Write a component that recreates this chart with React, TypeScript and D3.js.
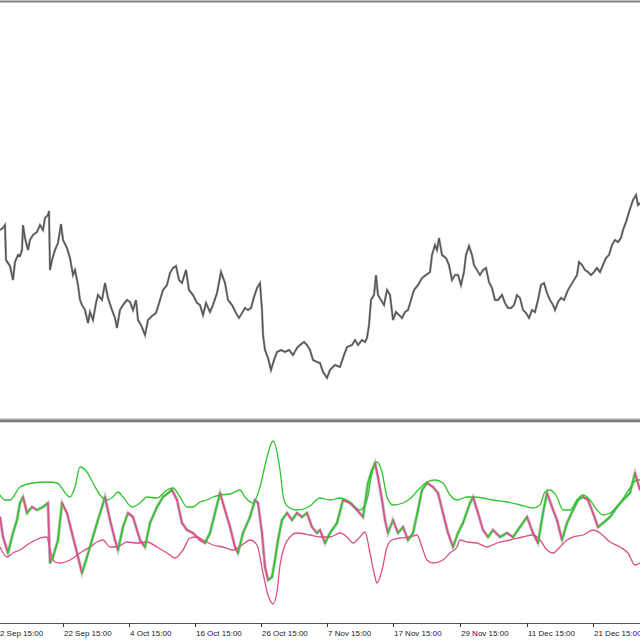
import React from 'react';
import * as d3 from 'd3';

// price bars: [bar, close]
const priceBars: [number, number][] = [
  [0, 110.70], [3, 110.72], [5, 110.75], [6, 110.40], [8, 110.37], [10, 110.34], [13, 110.20], [15, 110.38],
  [18, 110.45], [20, 110.44], [22, 110.50], [23, 110.75], [25, 110.62], [28, 110.50], [30, 110.60], [33, 110.65],
  [37, 110.68], [40, 110.75], [43, 110.70], [45, 110.82], [48, 110.85], [49, 110.89], [50, 110.30], [52, 110.40],
  [55, 110.50], [58, 110.57], [61, 110.76], [63, 110.60], [67, 110.52], [70, 110.42], [73, 110.25], [75, 110.30],
  [78, 110.15], [80, 110.00], [82, 109.95], [85, 109.90], [88, 109.77], [90, 109.88], [93, 109.80], [96, 109.97],
  [98, 110.05], [102, 110.00], [105, 110.17], [108, 110.02], [112, 109.90], [115, 109.82], [117, 109.72], [120, 109.90],
  [123, 109.95], [127, 110.00], [130, 109.98], [133, 109.90], [136, 110.00], [138, 109.80], [141, 109.75], [145, 109.65],
  [148, 109.80], [152, 109.84], [156, 109.87], [160, 110.00], [163, 110.10], [167, 110.15], [170, 110.27], [173, 110.32],
  [176, 110.34], [179, 110.20], [182, 110.17], [186, 110.30], [189, 110.10], [193, 110.05], [197, 109.97], [200, 109.95],
  [203, 109.85], [206, 109.97], [210, 109.88], [213, 109.95], [217, 110.07], [221, 110.28], [225, 110.17], [228, 110.00],
  [232, 109.95], [236, 109.87], [239, 109.82], [242, 109.87], [245, 109.92], [248, 109.90], [251, 109.92], [254, 110.03],
  [257, 110.12], [260, 110.17], [262, 109.90], [263, 109.65], [265, 109.50], [268, 109.42], [271, 109.30], [274, 109.40],
  [277, 109.48], [281, 109.50], [285, 109.48], [289, 109.50], [293, 109.45], [297, 109.52], [300, 109.55], [304, 109.58],
  [307, 109.55], [310, 109.50], [313, 109.40], [317, 109.38], [320, 109.37], [323, 109.28], [327, 109.22], [330, 109.30],
  [335, 109.35], [340, 109.33], [344, 109.45], [347, 109.53], [352, 109.55], [355, 109.60], [358, 109.55], [362, 109.60],
  [365, 109.58], [367, 109.62], [369, 109.75], [371, 110.00], [374, 110.05], [376, 110.25], [378, 110.05], [381, 110.00],
  [384, 109.95], [387, 110.10], [390, 110.05], [393, 109.80], [396, 109.88], [399, 109.85], [402, 109.82], [405, 109.88],
  [408, 109.90], [411, 110.00], [414, 110.10], [418, 110.15], [422, 110.22], [426, 110.25], [430, 110.28], [432, 110.45],
  [435, 110.55], [437, 110.50], [439, 110.62], [442, 110.45], [446, 110.42], [449, 110.35], [452, 110.20], [455, 110.25],
  [458, 110.25], [461, 110.15], [464, 110.28], [466, 110.45], [469, 110.54], [472, 110.45], [474, 110.35], [477, 110.30],
  [480, 110.25], [483, 110.30], [486, 110.32], [489, 110.18], [492, 110.12], [495, 110.00], [498, 110.00], [502, 110.05],
  [505, 109.97], [508, 109.92], [511, 109.92], [514, 109.95], [517, 110.05], [520, 110.02], [523, 109.90], [526, 109.87],
  [529, 109.82], [532, 109.90], [535, 109.88], [538, 110.00], [541, 110.15], [544, 110.17], [547, 110.07], [550, 110.00],
  [553, 109.95], [555, 109.90], [558, 109.98], [561, 110.02], [564, 110.00], [568, 110.10], [571, 110.15], [574, 110.20],
  [577, 110.25], [579, 110.38], [582, 110.35], [585, 110.30], [588, 110.28], [591, 110.25], [594, 110.28], [597, 110.32],
  [600, 110.28], [603, 110.35], [606, 110.42], [609, 110.45], [612, 110.55], [615, 110.60], [618, 110.58], [621, 110.62],
  [623, 110.70], [626, 110.78], [629, 110.88], [633, 111.00], [636, 111.05], [638, 110.95], [640, 110.97],
];

// oscillator main line: [bar, value]
const oscMain: [number, number][] = [
  [0, 3], [3, -17], [8, -33], [13, -13], [17, 0], [20, 17], [23, 23], [27, 7], [32, 13], [37, 10], [43, 13], [48, 17],
  [50, -43], [53, -37], [58, -20], [62, 17], [67, 7], [72, -13], [77, -33], [82, -53], [87, -37], [92, -20], [97, -3],
  [102, 13], [105, 23], [110, 0], [115, -20], [118, -30], [123, -7], [128, 7], [133, 3], [140, -20], [145, -27],
  [150, -3], [157, 13], [163, 23], [172, 30], [177, 20], [182, -3], [187, -10], [193, -13], [200, -20], [205, -23],
  [210, -13], [215, 7], [220, 27], [225, 10], [230, -7], [235, -27], [238, -33], [243, -13], [250, 3], [255, 20],
  [258, 17], [262, -13], [265, -47], [268, -60], [272, -57], [275, -40], [278, -20], [282, 0], [287, 7], [292, 0],
  [297, 7], [302, 3], [307, 7], [312, -7], [317, -13], [320, -10], [325, -23], [330, -13], [337, -3], [343, 20],
  [350, 17], [357, 10], [363, 3], [368, 37], [372, 50], [375, 57], [378, 43], [382, 20], [385, 0], [388, -13],
  [393, 0], [398, -13], [403, -7], [408, -20], [413, -13], [418, 10], [422, 30], [427, 37], [433, 33], [438, 27],
  [443, 7], [448, -13], [453, -27], [458, -13], [463, -3], [470, 17], [473, 23], [478, 7], [483, -10], [488, -17],
  [493, -10], [500, -17], [507, -13], [513, -17], [520, -7], [527, 3], [533, -13], [538, -23], [543, 7], [547, 27],
  [552, 13], [557, 0], [562, -20], [567, -3], [573, 10], [578, 20], [583, 23], [588, 20], [593, 7], [598, -7],
  [603, -3], [610, 3], [617, 13], [623, 20], [630, 27], [635, 47], [640, 30],
];

// upper band (green)
const oscUpper: [number, number][] = [
  [0, 25], [5, 20], [10, 20], [20, 33], [33, 37], [47, 38], [57, 37], [67, 25], [70, 23], [75, 33], [80, 53],
  [87, 48], [93, 37], [100, 25], [107, 20], [113, 23], [118, 28], [123, 23], [132, 13], [140, 17], [147, 23],
  [157, 22], [167, 30], [173, 32], [180, 23], [187, 13], [193, 13], [200, 18], [207, 20], [213, 23], [220, 25],
  [230, 26], [240, 30], [245, 23], [253, 17], [260, 33], [267, 63], [273, 79], [280, 50], [283, 25], [287, 14],
  [297, 10], [310, 14], [320, 22], [330, 20], [340, 22], [350, 18], [360, 10], [367, 20], [372, 47], [377, 58],
  [382, 48], [387, 23], [393, 15], [403, 17], [412, 23], [418, 30], [427, 38], [435, 40], [443, 37], [450, 25],
  [457, 20], [467, 23], [473, 23], [483, 22], [493, 20], [507, 18], [520, 15], [533, 12], [540, 15], [545, 28],
  [550, 30], [557, 23], [563, 10], [570, 10], [577, 20], [583, 25], [590, 20], [597, 10], [603, 5], [610, 7],
  [620, 17], [630, 32], [637, 40], [640, 40],
];

// lower band (pink)
const oscLower: [number, number][] = [
  [0, -27], [7, -37], [13, -33], [20, -30], [30, -23], [40, -18], [47, -17], [50, -30], [55, -42], [60, -43],
  [70, -40], [80, -33], [90, -27], [97, -22], [103, -20], [110, -27], [117, -27], [127, -22], [137, -23], [147, -22],
  [157, -27], [167, -33], [175, -38], [183, -30], [190, -18], [197, -17], [203, -20], [213, -25], [223, -27],
  [233, -30], [242, -25], [250, -20], [257, -25], [263, -53], [268, -75], [273, -84], [277, -72], [280, -45],
  [285, -25], [290, -17], [297, -13], [310, -15], [320, -17], [330, -17], [340, -13], [347, -17], [353, -23],
  [360, -17], [365, -12], [370, -33], [375, -57], [377, -63], [382, -50], [387, -27], [392, -20], [400, -18],
  [410, -17], [417, -15], [422, -27], [427, -40], [433, -43], [443, -40], [450, -33], [457, -27], [460, -20],
  [467, -22], [477, -23], [487, -27], [497, -23], [510, -20], [523, -17], [533, -15], [540, -20], [547, -30],
  [553, -33], [560, -27], [567, -20], [573, -17], [583, -15], [593, -10], [600, -13], [610, -22], [620, -27],
  [628, -33], [635, -45], [640, -43],
];

const tickBars = [-5.5, 63, 129, 195, 261, 327, 393, 460, 527, 593];
const tickLabels = [
  '12 Sep 15:00', '22 Sep 15:00', '4 Oct 15:00', '16 Oct 15:00', '26 Oct 15:00',
  '7 Nov 15:00', '17 Nov 15:00', '29 Nov 15:00', '11 Dec 15:00', '21 Dec 15:00',
];

const W = 640, H = 640;
const GREEN = '#2ec52e';
const PINK = '#dc4f8a';

export default function App() {
  const x = d3.scaleLinear().domain([0, 640]).range([0, W]);
  const yPrice = d3.scaleLinear().domain([108.81, 112.97]).range([419, 3]);
  const yOsc = d3.scaleLinear().domain([-102, 98]).range([622, 422]);

  const priceLine = d3.line<[number, number]>().x(d => x(d[0])).y(d => yPrice(d[1]));
  const oscLine = d3.line<[number, number]>().x(d => x(d[0])).y(d => yOsc(d[1])).curve(d3.curveMonotoneX);
  const rawLine = d3.line<[number, number]>().x(d => x(d[0])).y(d => yOsc(d[1]));

  // colour each step of the main line by direction
  const segs = oscMain.slice(1).map((d, i) => {
    const p = oscMain[i];
    return { p, d, up: d[1] >= p[1] };
  });

  return (
    <svg width={W} height={H} style={{ position: 'absolute', left: 0, top: 0, background: '#fff' }}
      fontFamily="'Liberation Sans', Arial, sans-serif">
      <defs>
        <clipPath id="clipTop"><rect x={0} y={3} width={W} height={415} /></clipPath>
        <clipPath id="clipBot"><rect x={0} y={423} width={W} height={199} /></clipPath>
      </defs>
      <rect x={0} y={0} width={W} height={H} fill="#fff" />

      {/* top border */}
      <rect x={0} y={0} width={W} height={3} fill="#d4d4d4" />
      <line x1={0} x2={W} y1={1.5} y2={1.5} stroke="#7f7f7f" strokeWidth={1.5} />

      {/* price */}
      <g clipPath="url(#clipTop)">
        <path d={priceLine(priceBars) || ''} fill="none" stroke="#6a6a6a" strokeWidth={2.4} strokeLinejoin="miter" opacity={0.55} />
        <path d={priceLine(priceBars) || ''} fill="none" stroke="#555" strokeWidth={1.4} strokeLinejoin="miter" />
      </g>

      {/* separator */}
      <rect x={0} y={418} width={W} height={5} fill="#d2d2d2" />
      <rect x={0} y={419.5} width={W} height={2.5} fill="#7a7a7a" />

      {/* oscillator */}
      <g clipPath="url(#clipBot)">
        <path d={rawLine(oscMain) || ''} fill="none" stroke="#c4c4c4" strokeWidth={3.2} />
        <path d={oscLine(oscUpper) || ''} fill="none" stroke={GREEN} strokeWidth={1.3} />
        <path d={oscLine(oscLower) || ''} fill="none" stroke={PINK} strokeWidth={1.3} />
        {segs.map((s, i) => (
          <line key={i} x1={x(s.p[0])} y1={yOsc(s.p[1])} x2={x(s.d[0])} y2={yOsc(s.d[1])}
            stroke={s.up ? GREEN : PINK} strokeWidth={1.7} strokeLinecap="round" />
        ))}
      </g>

      {/* time axis */}
      <line x1={0} x2={W} y1={623.5} y2={623.5} stroke="#555" strokeWidth={1} />
      {tickBars.map((b, i) => (
        <g key={i} transform={`translate(${x(b)},0)`}>
          <line x1={0.5} x2={0.5} y1={623} y2={627} stroke="#333" strokeWidth={1} />
          <text x={1} y={636} fontSize={8} fill="#222">{tickLabels[i]}</text>
        </g>
      ))}
    </svg>
  );
}
